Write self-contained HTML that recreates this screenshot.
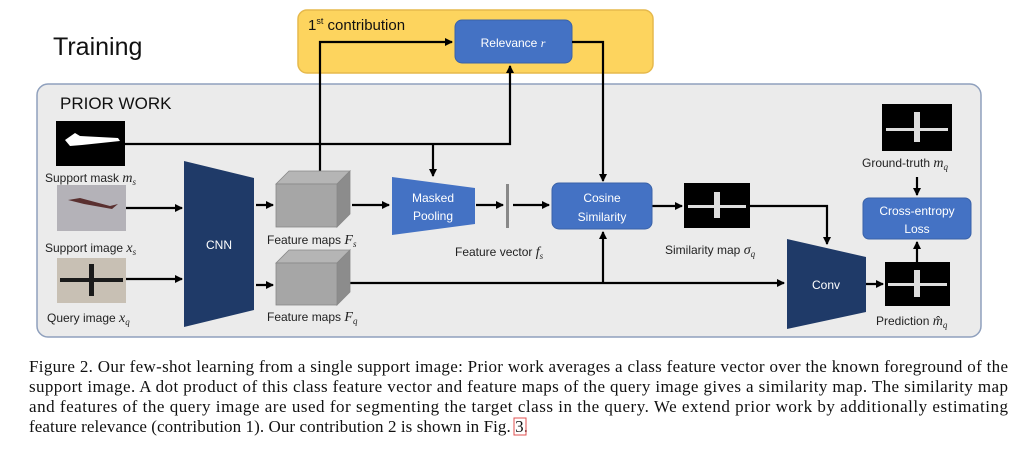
<!DOCTYPE html>
<html><head><meta charset="utf-8"><style>
html,body{margin:0;padding:0;background:#fff;width:1018px;height:457px;overflow:hidden}
svg{display:block}
.s{font-family:"Liberation Sans",sans-serif}
.c{font-family:"Liberation Serif",serif;font-size:17px;fill:#111}
</style></head><body>
<svg width="1018" height="457" viewBox="0 0 1018 457" xmlns="http://www.w3.org/2000/svg">
<defs>
<marker id="a" markerWidth="8" markerHeight="8" refX="7" refY="4" orient="auto" markerUnits="userSpaceOnUse"><path d="M0,0 L8,4 L0,8 z" fill="#000"/></marker>
</defs>
<rect x="298" y="10" width="355" height="63" rx="9" fill="#fdd45e" stroke="#e6b94c" stroke-width="1.5"/>
<text x="308" y="30" class="s" font-size="15" fill="#111">1<tspan font-size="9" dy="-6">st</tspan><tspan dy="6"> contribution</tspan></text>
<text x="53" y="55" class="s" font-size="25" fill="#111">Training</text>
<rect x="37" y="84" width="944" height="253" rx="11" fill="#ebebeb" stroke="#8fa0bd" stroke-width="1.5"/>
<text x="60" y="109" class="s" font-size="17" fill="#111">PRIOR WORK</text>
<rect x="455" y="20" width="117" height="43" rx="7" fill="#4472c4" stroke="#3a62a8"/>
<text x="513" y="47" class="s" font-size="12" fill="#fff" text-anchor="middle">Relevance <tspan font-style="italic" font-family="Liberation Serif">r</tspan></text>
<g stroke="#000" stroke-width="2.2" fill="none">
<path d="M320 171 V42 H452" marker-end="url(#a)"/>
<path d="M125 144 H510 V66" marker-end="url(#a)"/>
<path d="M433 144 V176" marker-end="url(#a)"/>
<path d="M572 42 H603 V181" marker-end="url(#a)"/>
<path d="M126 208 H182" marker-end="url(#a)"/>
<path d="M126 279 H182" marker-end="url(#a)"/>
<path d="M256 205 H273" marker-end="url(#a)"/>
<path d="M256 285 H273" marker-end="url(#a)"/>
<path d="M352 205 H389" marker-end="url(#a)"/>
<path d="M476 205 H503" marker-end="url(#a)"/>
<path d="M513 205 H549" marker-end="url(#a)"/>
<path d="M652 206 H682" marker-end="url(#a)"/>
<path d="M750 206 H827 V244" marker-end="url(#a)"/>
<path d="M350 283 H784" marker-end="url(#a)"/>
<path d="M603 283 V232" marker-end="url(#a)"/>
<path d="M866 284 H883" marker-end="url(#a)"/>
<path d="M917 177 V195" marker-end="url(#a)"/>
<path d="M917 262 V242" marker-end="url(#a)"/>
</g>
<rect x="56" y="121" width="69" height="45" fill="#000"/>
<path d="M65 140 L75 133 L80 136 L118 138 L120 141 L82 145 L70 146 Z" fill="#fff"/>
<text x="45" y="182" class="s" font-size="12" fill="#222">Support mask <tspan font-style="italic" font-family="Liberation Serif" font-size="14">m<tspan font-size="9" dy="3">s</tspan></tspan></text>
<rect x="57" y="185" width="69" height="46" fill="#b4b2b8"/>
<path d="M68 200 L80 198 L110 206 L118 204 L112 209 L84 204 Z" fill="#5a3030"/>
<text x="45" y="252" class="s" font-size="12" fill="#222">Support image <tspan font-style="italic" font-family="Liberation Serif" font-size="14">x<tspan font-size="9" dy="3">s</tspan></tspan></text>
<rect x="57" y="258" width="69" height="45" fill="#c8c0b4"/>
<path d="M60 278 L123 278 L123 282 L60 282 Z M89 264 L94 264 L94 296 L89 296 Z" fill="#1a1a1a"/>
<text x="47" y="322" class="s" font-size="12" fill="#222">Query image <tspan font-style="italic" font-family="Liberation Serif" font-size="14">x<tspan font-size="9" dy="3">q</tspan></tspan></text>
<polygon points="184,161 254,178 254,310 184,327" fill="#1f3a68"/>
<text x="219" y="249" class="s" font-size="12" fill="#fff" text-anchor="middle">CNN</text>
<g>
<polygon points="276,184 289,171 350,171 337,184" fill="#b5b5b5" stroke="#888" stroke-width=".8"/>
<polygon points="337,184 350,171 350,214 337,227" fill="#8c8c8c" stroke="#888" stroke-width=".8"/>
<rect x="276" y="184" width="61" height="43" fill="#a6a6a6" stroke="#888" stroke-width=".8"/>
<polygon points="276,263 289,250 350,250 337,263" fill="#b5b5b5" stroke="#888" stroke-width=".8"/>
<polygon points="337,263 350,250 350,292 337,305" fill="#8c8c8c" stroke="#888" stroke-width=".8"/>
<rect x="276" y="263" width="61" height="42" fill="#a6a6a6" stroke="#888" stroke-width=".8"/>
</g>
<text x="267" y="244" class="s" font-size="12" fill="#222">Feature maps <tspan font-style="italic" font-family="Liberation Serif" font-size="14">F<tspan font-size="9" dy="3">s</tspan></tspan></text>
<text x="267" y="321" class="s" font-size="12" fill="#222">Feature maps <tspan font-style="italic" font-family="Liberation Serif" font-size="14">F<tspan font-size="9" dy="3">q</tspan></tspan></text>
<polygon points="392,177 475,188 475,224 392,235" fill="#4472c4"/>
<text x="433" y="202" class="s" font-size="12" fill="#fff" text-anchor="middle">Masked</text>
<text x="433" y="220" class="s" font-size="12" fill="#fff" text-anchor="middle">Pooling</text>
<rect x="506" y="184" width="3" height="44" fill="#888"/>
<text x="455" y="256" class="s" font-size="12" fill="#222">Feature vector <tspan font-style="italic" font-family="Liberation Serif" font-size="14">f<tspan font-size="9" dy="3">s</tspan></tspan></text>
<rect x="552" y="183" width="100" height="46" rx="7" fill="#4472c4" stroke="#3a62a8"/>
<text x="602" y="202" class="s" font-size="12" fill="#fff" text-anchor="middle">Cosine</text>
<text x="602" y="221" class="s" font-size="12" fill="#fff" text-anchor="middle">Similarity</text>
<rect x="684" y="183" width="66" height="45" fill="#000"/>
<path d="M688 205 L746 205 L746 208 L688 208 Z M714 192 L720 192 L720 218 L714 218 Z" fill="#ddd"/>
<text x="665" y="254" class="s" font-size="12" fill="#222">Similarity map <tspan font-style="italic" font-family="Liberation Serif" font-size="14">σ<tspan font-size="9" dy="3">q</tspan></tspan></text>
<polygon points="787,239 866,257 866,312 787,329" fill="#1f3a68"/>
<text x="826" y="289" class="s" font-size="12" fill="#fff" text-anchor="middle">Conv</text>
<rect x="885" y="262" width="65" height="44" fill="#000"/>
<path d="M888 283 L947 283 L947 286 L888 286 Z M914 270 L920 270 L920 297 L914 297 Z" fill="#ddd"/>
<text x="876" y="325" class="s" font-size="12" fill="#222">Prediction <tspan font-style="italic" font-family="Liberation Serif" font-size="14">m̂<tspan font-size="9" dy="3">q</tspan></tspan></text>
<rect x="882" y="104" width="70" height="47" fill="#000"/>
<path d="M886 128 L948 128 L948 131 L886 131 Z M914 112 L920 112 L920 142 L914 142 Z" fill="#ddd"/>
<text x="862" y="167" class="s" font-size="12" fill="#222">Ground-truth <tspan font-style="italic" font-family="Liberation Serif" font-size="14">m<tspan font-size="9" dy="3">q</tspan></tspan></text>
<rect x="863" y="198" width="108" height="41" rx="6" fill="#4472c4" stroke="#3a62a8"/>
<text x="917" y="215" class="s" font-size="12" fill="#fff" text-anchor="middle">Cross-entropy</text>
<text x="917" y="233" class="s" font-size="12" fill="#fff" text-anchor="middle">Loss</text>
<text x="29" y="372" class="c" textLength="979" lengthAdjust="spacing">Figure 2. Our few-shot learning from a single support image: Prior work averages a class feature vector over the known foreground of the</text>
<text x="29" y="392" class="c" textLength="979" lengthAdjust="spacing">support image. A dot product of this class feature vector and feature maps of the query image gives a similarity map. The similarity map</text>
<text x="29" y="412" class="c" textLength="979" lengthAdjust="spacing">and features of the query image are used for segmenting the target class in the query. We extend prior work by additionally estimating</text>
<text x="29" y="432" class="c" textLength="499" lengthAdjust="spacing">feature relevance (contribution 1). Our contribution 2 is shown in Fig. 3.</text>
<rect x="514" y="418" width="12" height="17" fill="none" stroke="#e05050" stroke-width="1"/>
</svg>
</body></html>
